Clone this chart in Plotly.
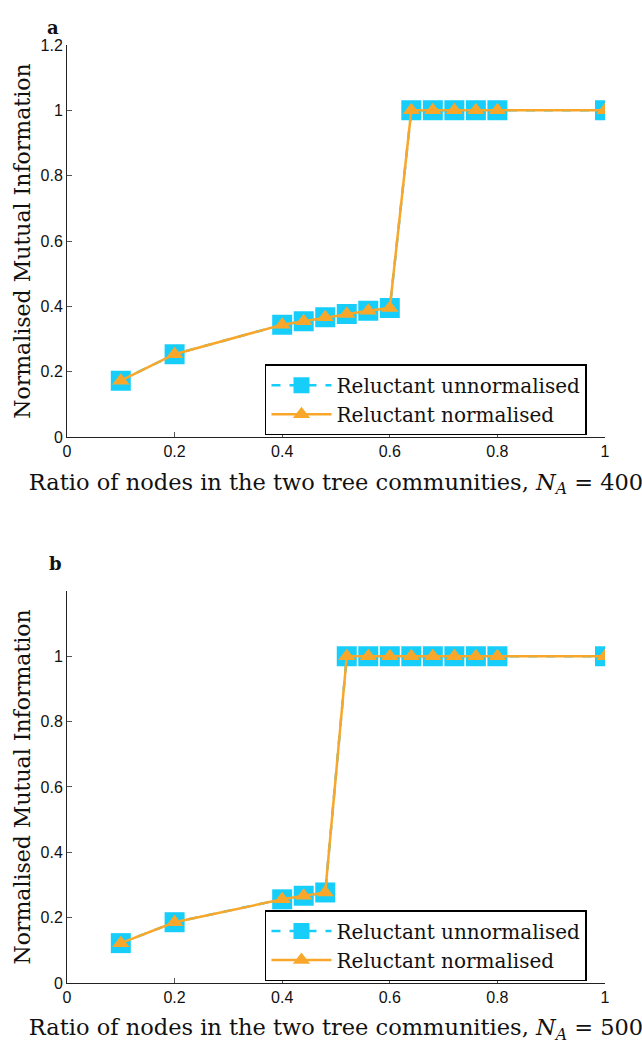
import plotly.graph_objects as go
from plotly.subplots import make_subplots

# Data (panel a: N_A = 400)
ratio_a = [0.1, 0.2, 0.4, 0.44, 0.48, 0.52, 0.56, 0.6, 0.64, 0.68, 0.72, 0.76, 0.8, 1.0]
unnorm_a = [0.173, 0.254, 0.344, 0.355, 0.367, 0.377, 0.387, 0.395, 1.0, 1.0, 1.0, 1.0, 1.0, 1.0]
norm_a = [0.173, 0.254, 0.344, 0.355, 0.367, 0.377, 0.387, 0.395, 1.0, 1.0, 1.0, 1.0, 1.0, 1.0]

# Data (panel b: N_A = 500)
ratio_b = [0.1, 0.2, 0.4, 0.44, 0.48, 0.52, 0.56, 0.6, 0.64, 0.68, 0.72, 0.76, 0.8, 1.0]
unnorm_b = [0.122, 0.186, 0.256, 0.267, 0.277, 1.0, 1.0, 1.0, 1.0, 1.0, 1.0, 1.0, 1.0, 1.0]
norm_b = [0.122, 0.186, 0.256, 0.267, 0.277, 1.0, 1.0, 1.0, 1.0, 1.0, 1.0, 1.0, 1.0, 1.0]

x_ticks = [0, 0.2, 0.4, 0.6, 0.8, 1.0]
y_ticks_a = [0, 0.2, 0.4, 0.6, 0.8, 1.0, 1.2]
y_ticks_b = [0, 0.2, 0.4, 0.6, 0.8, 1.0]

CYAN = "#17CEFB"
ORANGE = "#F9A72B"
SERIF = "DejaVu Serif"
SANS = "Liberation Sans"

fig = make_subplots(rows=2, cols=1)

panels = [
    (1, ratio_a, unnorm_a, norm_a, "legend"),
    (2, ratio_b, unnorm_b, norm_b, "legend2"),
]
for row, xs, yu, yn, leg in panels:
    fig.add_trace(go.Scatter(
        x=xs, y=yu, mode="lines+markers", name="Reluctant unnormalised",
        line=dict(color=CYAN, width=2.5, dash="dash"),
        marker=dict(symbol="square", size=20, color=CYAN, line=dict(width=0)),
        legend=leg), row=row, col=1)
    fig.add_trace(go.Scatter(
        x=xs, y=yn, mode="lines+markers", name="Reluctant normalised",
        line=dict(color=ORANGE, width=2.5),
        marker=dict(symbol="triangle-up", size=15, color=ORANGE, line=dict(width=0)),
        legend=leg), row=row, col=1)

axis_common = dict(
    showline=True, linecolor="#222", linewidth=1, mirror=False,
    ticks="inside", ticklen=5, tickcolor="#555", tickwidth=1,
    showgrid=False, zeroline=False,
    tickfont=dict(family=SANS, size=16, color="#111"),
)

xt_font = dict(family=SERIF, size=22.5, color="#111")
fig.update_xaxes(**axis_common, range=[0, 1], tickvals=x_ticks)
fig.update_xaxes(domain=[0, 1], row=1, col=1,
                 title=dict(text="Ratio of nodes in the two tree communities, <i>N</i><sub><i>A</i></sub> = 400",
                            font=xt_font, standoff=14))
fig.update_xaxes(domain=[0, 1], row=2, col=1,
                 title=dict(text="Ratio of nodes in the two tree communities, <i>N</i><sub><i>A</i></sub> = 500",
                            font=xt_font, standoff=14))

ytitle = dict(text="Normalised Mutual Information", font=dict(family=SERIF, size=22, color="#111"), standoff=3)
fig.update_yaxes(**axis_common, range=[0, 1.2])
fig.update_yaxes(row=1, col=1, domain=[0.5819, 1.0], tickvals=y_ticks_a, title=ytitle)
fig.update_yaxes(row=2, col=1, domain=[0.0, 0.4181], tickvals=y_ticks_b, title=ytitle)

legend_style = dict(
    bgcolor="white", bordercolor="black", borderwidth=1.5,
    font=dict(family=SERIF, size=20, color="#111"),
    xanchor="left", yanchor="top", itemwidth=60,
)

fig.update_layout(
    width=642, height=1048,
    margin=dict(l=67, r=37, t=45, b=63),
    paper_bgcolor="white", plot_bgcolor="white",
    showlegend=True,
    legend=dict(**legend_style, x=0.368, y=0.6596),
    legend2=dict(**legend_style, x=0.368, y=0.0777),
    annotations=[
        dict(text="<b>a</b>", x=45, y=15, xref="paper", yref="paper", showarrow=False,
             font=dict(family=SERIF, size=18, color="#111")),
        dict(text="<b>b</b>", x=47, y=565, xref="paper", yref="paper", showarrow=False,
             font=dict(family=SERIF, size=18, color="#111")),
    ],
)

# Convert panel-label pixel positions to paper coordinates
pw, ph = 642 - 67 - 37, 1048 - 45 - 63
for ann in fig.layout.annotations:
    px, py = ann.x, ann.y
    ann.x = (px - 67) / pw
    ann.y = 1 - (py - 45) / ph

fig.write_html("out.html")
